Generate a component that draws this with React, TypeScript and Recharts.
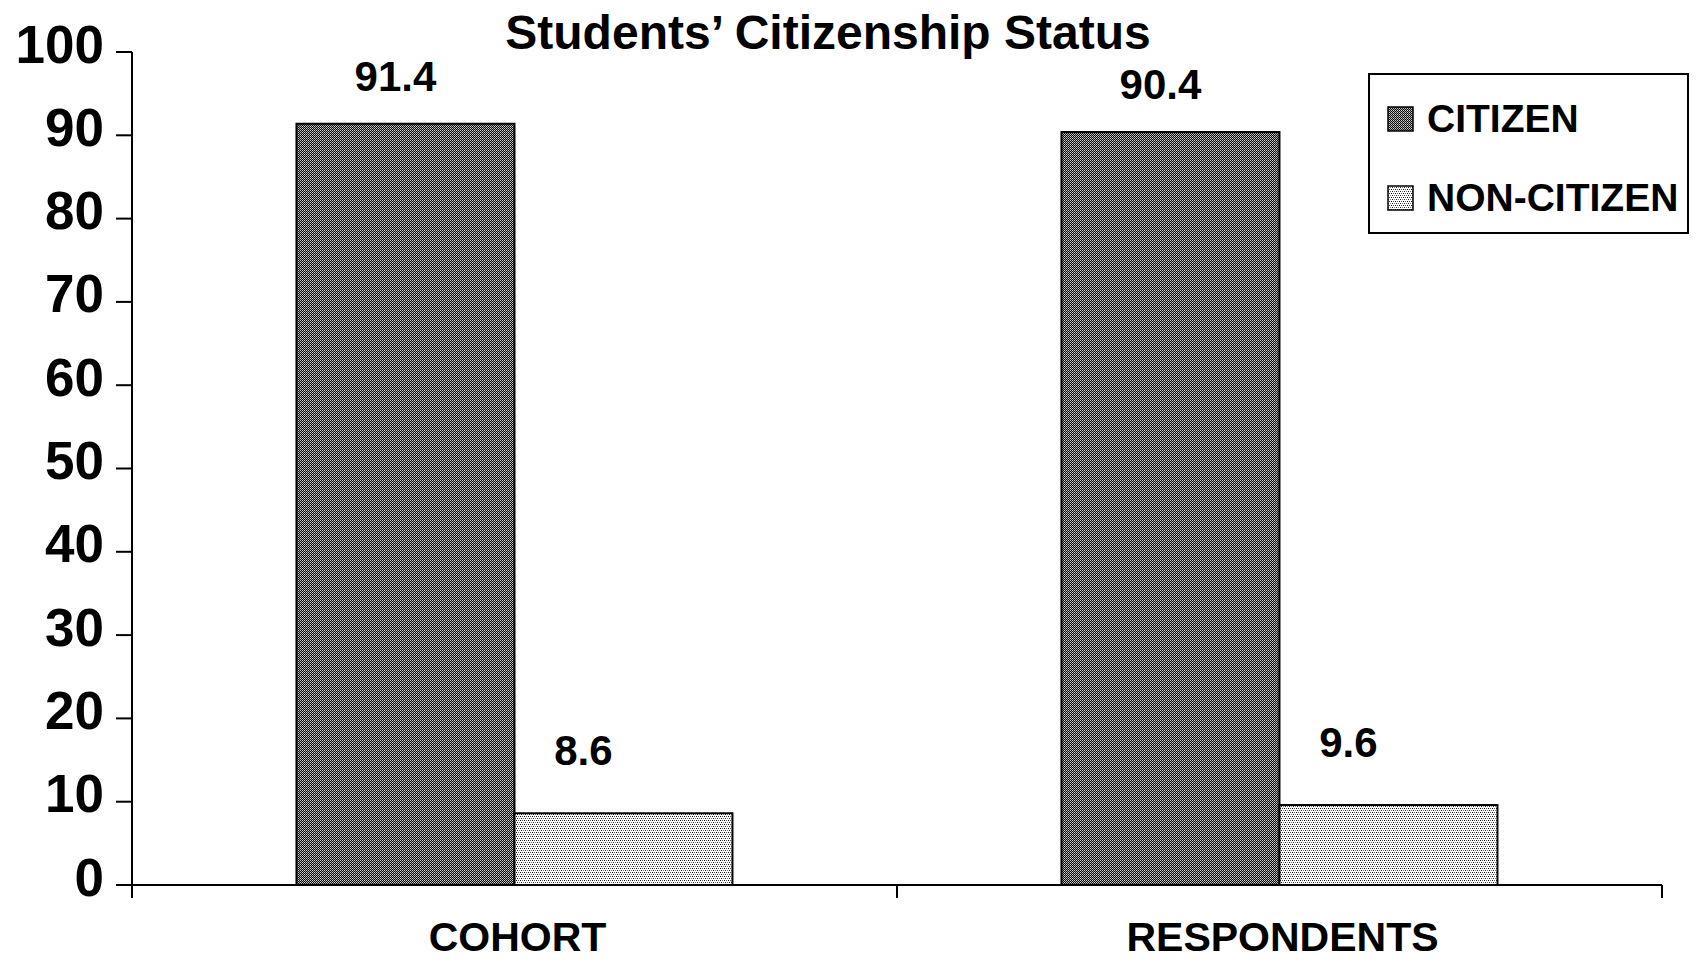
import React from 'react';
import { BarChart, Bar, XAxis, YAxis, LabelList, Legend } from 'recharts';

const categories = ['COHORT', 'RESPONDENTS'];
const citizenValues = [91.4, 90.4];
const nonCitizenValues = [8.6, 9.6];
const seriesNames = ['CITIZEN', 'NON-CITIZEN'];
const yTicks = [0, 10, 20, 30, 40, 50, 60, 70, 80, 90, 100];

const data = categories.map((c, i) => ({
  category: c,
  citizen: citizenValues[i],
  nonCitizen: nonCitizenValues[i],
}));

const FONT = '"Liberation Sans", Arial, sans-serif';
const X_TICK_MARGIN = 36;

const PatternDefs = ({ prefix }: { prefix: string }) => (
  <defs>
    <pattern id={`${prefix}-dark`} width="2" height="2" patternUnits="userSpaceOnUse">
      <rect x="0" y="0" width="2" height="2" fill="#0d0d0d" />
      <rect x="0" y="0" width="1" height="1" fill="#cfcfcf" />
      <rect x="1" y="1" width="1" height="1" fill="#9c9c9c" />
    </pattern>
    <pattern id={`${prefix}-light`} width="4" height="4" patternUnits="userSpaceOnUse">
      <rect x="0" y="0" width="4" height="4" fill="#fff" />
      <rect x="0" y="0" width="1" height="1" fill="#111" />
      <rect x="2" y="0" width="1" height="1" fill="#555" />
      <rect x="1" y="2" width="1" height="1" fill="#222" />
      <rect x="3" y="2" width="1" height="1" fill="#777" />
    </pattern>
  </defs>
);

const YTick = (props: any) => {
  const { x, y, payload } = props;
  return (
    <text x={x} y={y - 8} textAnchor="end" dominantBaseline="central" fontFamily={FONT} fontWeight={700} fontSize={53} fill="#000">
      {payload.value}
    </text>
  );
};

const XTick = (props: any) => {
  const { x, y, payload } = props;
  const axisY = y - X_TICK_MARGIN;
  const half = payload && typeof payload.offset === 'number' ? payload.offset : 0;
  return (
    <g>
      {half > 0 && (
        <>
          <line x1={x - half} x2={x - half} y1={axisY} y2={axisY + 13} stroke="#000" strokeWidth={2} />
          <line x1={x + half} x2={x + half} y1={axisY} y2={axisY + 13} stroke="#000" strokeWidth={2} />
        </>
      )}
      <text x={x + 3} y={axisY + 52} textAnchor="middle" dominantBaseline="central" fontFamily={FONT} fontWeight={700} fontSize={41} fill="#000">
        {payload.value}
      </text>
    </g>
  );
};

const LegendBox = () => (
  <div style={{ boxSizing: 'border-box', width: 321, height: 161, border: '2px solid #000', background: '#fff', fontFamily: FONT, fontWeight: 700, fontSize: 39, color: '#000', position: 'relative' }}>
    {seriesNames.map((name, i) => (
      <div key={name} style={{ position: 'absolute', left: 17, top: i === 0 ? 24 : 103, display: 'flex', alignItems: 'center', whiteSpace: 'nowrap', lineHeight: '40px' }}>
        <svg width={27} height={26} style={{ marginRight: 13 }}>
          <PatternDefs prefix={`lg${i}`} />
          <rect x={1} y={1} width={25} height={24} fill={`url(#lg${i}-${i === 0 ? 'dark' : 'light'})`} stroke="#000" strokeWidth={1.5} />
        </svg>
        <span>{name}</span>
      </div>
    ))}
  </div>
);

export default function App() {
  return (
    <div style={{ position: 'absolute', left: 0, top: 0, width: 1696, height: 964, background: '#fff' }}>
      <BarChart width={1696} height={964} data={data} margin={{ top: 52, right: 34, bottom: 0, left: 0 }} barCategoryGap="21.5%" barGap={0}>
        <PatternDefs prefix="ch" />
        <text x={828} y={49} textAnchor="middle" fontFamily={FONT} fontWeight={700} fontSize={48} fill="#000">
          Students’ Citizenship Status
        </text>
        <YAxis
          width={132}
          domain={[0, 100]}
          ticks={yTicks}
          interval={0}
          tickSize={16}
          tickMargin={12}
          axisLine={{ stroke: '#000', strokeWidth: 2 }}
          tickLine={{ stroke: '#000', strokeWidth: 2 }}
          tick={<YTick />}
        />
        <XAxis
          dataKey="category"
          height={79}
          tickSize={0}
          tickMargin={X_TICK_MARGIN}
          tickLine={false}
          axisLine={{ stroke: '#000', strokeWidth: 2 }}
          tick={<XTick />}
          interval={0}
        />
        <Legend
          layout="vertical"
          align="center"
          verticalAlign="middle"
          content={<LegendBox />}
          wrapperStyle={{ left: 1368, top: 73, width: 321, height: 161 }}
        />
        <Bar dataKey="citizen" name={seriesNames[0]} fill="url(#ch-dark)" stroke="#000" strokeWidth={2} isAnimationActive={false}>
          <LabelList dataKey="citizen" position="top" offset={33} dx={-10} style={{ fontFamily: FONT, fontWeight: 700, fontSize: 42, fill: '#000' }} />
        </Bar>
        <Bar dataKey="nonCitizen" name={seriesNames[1]} fill="url(#ch-light)" stroke="#000" strokeWidth={2} isAnimationActive={false}>
          <LabelList dataKey="nonCitizen" position="top" offset={48} dx={-40} style={{ fontFamily: FONT, fontWeight: 700, fontSize: 42, fill: '#000' }} />
        </Bar>
      </BarChart>
    </div>
  );
}
